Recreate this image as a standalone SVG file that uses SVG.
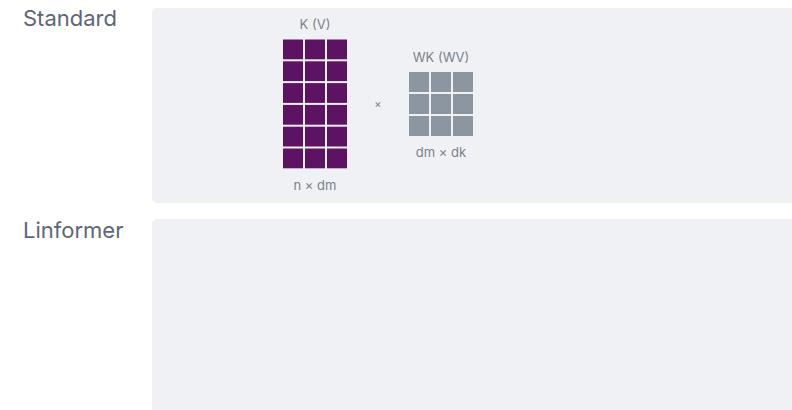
<svg xmlns="http://www.w3.org/2000/svg" width="792" height="410" viewBox="0 0 792 410">
<style>
.panel{fill:#f0f1f5}
.title{font-family:Inter,"Open Sans",sans-serif;font-size:22px;fill:#5d6676}
.lbl{font-family:Inter,"Open Sans",sans-serif;font-size:13px;fill:#7b818b;text-anchor:middle}
.k{fill:#5c1462}
.w{fill:#8b96a1}
</style>
<defs>
<g id="kcol">
<rect class="k" x="0" y="0" width="20" height="19.8"/>
<rect class="k" x="0" y="21.8" width="20" height="19.8"/>
<rect class="k" x="0" y="43.6" width="20" height="19.8"/>
<rect class="k" x="0" y="65.4" width="20" height="19.8"/>
<rect class="k" x="0" y="87.2" width="20" height="19.8"/>
<rect class="k" x="0" y="109" width="20" height="19.8"/>
</g>
<g id="wcol">
<rect class="w" x="0" y="0" width="20" height="20"/>
<rect class="w" x="0" y="22" width="20" height="20"/>
<rect class="w" x="0" y="44" width="20" height="20"/>
</g>
</defs>
<g id="standard">
<rect class="panel" x="152" y="8" width="660" height="195" rx="5"/>
<text class="title" x="23" y="26">Standard</text>
</g>
<g id="linformer">
<rect class="panel" x="152" y="219" width="660" height="210" rx="5"/>
<text class="title" x="23" y="238">Linformer</text>
</g>
<g id="K">
<text class="lbl" x="315" y="29">K (V)</text>
<use href="#kcol" x="283" y="39.5"/>
<use href="#kcol" x="305" y="39.5"/>
<use href="#kcol" x="327" y="39.5"/>
<text class="lbl" x="315" y="190">n × dm</text>
</g>
<g id="times">
<text class="lbl" x="378" y="108" style="font-size:11px">×</text>
</g>
<g id="WK">
<text class="lbl" x="441" y="62">WK (WV)</text>
<use href="#wcol" x="409" y="72"/>
<use href="#wcol" x="431" y="72"/>
<use href="#wcol" x="453" y="72"/>
<text class="lbl" x="441" y="157">dm × dk</text>
</g>
<g id="connectors"/>
</svg>
